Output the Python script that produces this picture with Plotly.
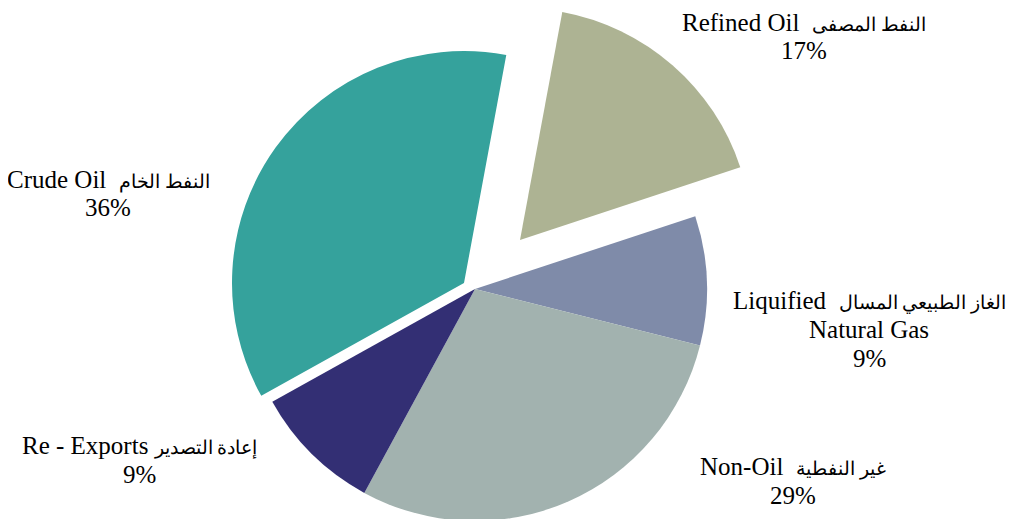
import plotly.graph_objects as go

# slice data, clockwise from the top
labels_en = ["Refined Oil", "Liquified Natural Gas", "Non-Oil", "Re - Exports", "Crude Oil"]
values = [17, 9, 29, 9, 36]
colors = ["#ADB393", "#7F8BA9", "#A2B2AF", "#332F74", "#35A29C"]

# label lines: (english part, arabic part) per line
label_lines = [
    [("Refined Oil  ", "النفط المصفى"), ("17%", "")],
    [("Liquified  ", "الغاز الطبيعي المسال"), ("Natural Gas", ""), ("9%", "")],
    [("Non-Oil  ", "غير النفطية"), ("29%", "")],
    [("Re - Exports ", "إعادة التصدير"), ("9%", "")],
    [("Crude Oil  ", "النفط الخام"), ("36%", "")],
]

W, H = 1016, 519
OFF = 8                            # page body margin
CX, CY, R = 475 - OFF, 289 - OFF, 232   # pie centre / radius in px
ROT = 10.5
# exploded slices: px shift of each slice's box (pull done by moving its domain)
shift = {"Refined Oil": (45, -49), "Crude Oil": (-11, -6)}
# label: x centre, y of first line centre, in px
label_pos = [(804, 22), (869, 300), (793, 466), (139, 445), (108, 179)]
LINE = 29

FONT = "Liberation Serif, Times New Roman, serif"


def frac(a):
    return min(max(a, 0.0), 1.0)


fig = go.Figure()
for i, name in enumerate(labels_en):
    dx, dy = shift.get(name, (0, 0))
    cx, cy = CX + dx, CY + dy
    cols = ["rgba(0,0,0,0)"] * len(values)
    cols[i] = colors[i]
    fig.add_trace(go.Pie(
        labels=labels_en, values=values, sort=False, direction="clockwise",
        rotation=ROT, marker=dict(colors=cols, line=dict(width=0)),
        textinfo="none", hoverinfo="skip", showlegend=False,
        domain=dict(x=[frac((cx - R) / W), frac((cx + R) / W)],
                    y=[frac((H - cy - R) / H), frac((H - cy + R) / H)]),
    ))

for lines, (lx, ly) in zip(label_lines, label_pos):
    for k, (en, ar) in enumerate(lines):
        txt = en + (f'<span style="font-size:19px">{ar}</span>' if ar else "")
        fig.add_annotation(text=txt, x=(lx - OFF) / W, y=1 - (ly + k * LINE - OFF) / H,
                           xref="paper", yref="paper",
                           xanchor="center", yanchor="middle", showarrow=False,
                           font=dict(family=FONT, size=25, color="#000000"))

fig.update_layout(width=W, height=H, margin=dict(l=0, r=0, t=0, b=0),
                  paper_bgcolor="white", plot_bgcolor="white",
                  font=dict(family=FONT, size=25))
fig.write_html("out.html")
